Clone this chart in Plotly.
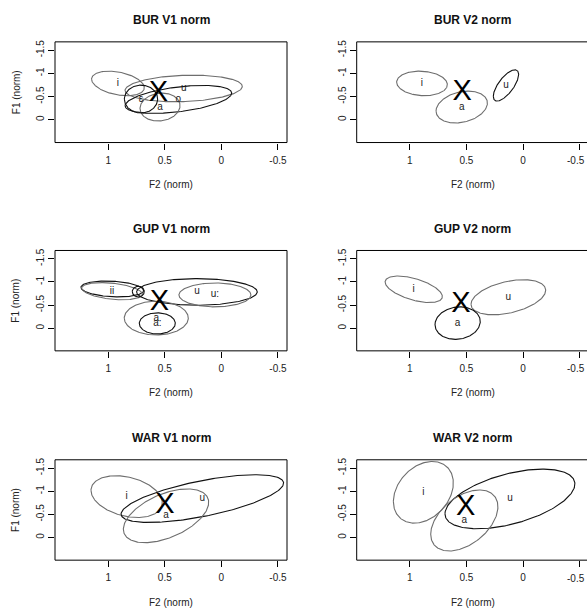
import numpy as np
import plotly.graph_objects as go
from plotly.subplots import make_subplots

# ---------------- data (normalised formant space) ----------------
panel_titles = ["BUR V1 norm", "BUR V2 norm", "GUP V1 norm",
                "GUP V2 norm", "WAR V1 norm", "WAR V2 norm"]

x_tick_vals = [1, 0.5, 0, -0.5]
x_tick_text = ["1", "0.5", "0", "-0.5"]
y_tick_vals = [-1.5, -1, -0.5, 0]
y_tick_text = ["-1.5", "-1", "-0.5", "0"]

# BUR V1
bur1_vowels = ["i", "u", "o", "a", "ɛ"]
bur1_f2 = [0.914, 0.333, 0.380, 0.542, 0.710]
bur1_f1 = [-0.784, -0.676, -0.440, -0.275, -0.447]
bur1_f2_rad = [0.233, 0.518, 0.471, 0.177, 0.147]
bur1_f1_rad = [0.265, 0.287, 0.301, 0.301, 0.301]
bur1_corr = [-0.35, 0.15, 0.45, 0.10, 0.0]
bur1_centroid = [0.557, -0.569]

# BUR V2
bur2_vowels = ["i", "a", "u"]
bur2_f2 = [0.893, 0.542, 0.151]
bur2_f1 = [-0.784, -0.275, -0.741]
bur2_f2_rad = [0.224, 0.227, 0.112]
bur2_f1_rad = [0.265, 0.344, 0.337]
bur2_corr = [-0.10, 0.25, 0.70]
bur2_centroid = [0.539, -0.590]

# GUP V1
gup1_vowels = ["", "ii", "", "u", "u:", "a", "a:"]
gup1_f2 = [0.964, 0.966, 0.734, 0.216, 0.057, 0.575, 0.566]
gup1_f1 = [-0.848, -0.800, -0.791, -0.784, -0.719, -0.218, -0.103]
gup1_f2_rad = [0.277, 0.268, 0.053, 0.533, 0.318, 0.283, 0.159]
gup1_f1_rad = [0.172, 0.186, 0.115, 0.287, 0.258, 0.366, 0.229]
gup1_corr = [-0.20, -0.35, 0.0, 0.0, 0.0, 0.0, 0.0]
gup1_centroid = [0.548, -0.547]

# GUP V2
gup2_vowels = ["i", "u", "a"]
gup2_f2 = [0.966, 0.130, 0.578]
gup2_f1 = [-0.841, -0.669, -0.110]
gup2_f2_rad = [0.253, 0.330, 0.200]
gup2_f1_rad = [0.287, 0.380, 0.351]
gup2_corr = [-0.55, 0.40, 0.10]
gup2_centroid = [0.548, -0.512]

# WAR V1
war1_vowels = ["i", "u", "a"]
war1_f2 = [0.837, 0.168, 0.489]
war1_f1 = [-0.884, -0.841, -0.469]
war1_f2_rad = [0.315, 0.718, 0.377]
war1_f1_rad = [0.452, 0.516, 0.581]
war1_corr = [-0.30, 0.65, 0.50]
war1_centroid = [0.498, -0.691]

# WAR V2
war2_vowels = ["i", "u", "a"]
war2_f2 = [0.881, 0.116, 0.519]
war2_f1 = [-0.977, -0.834, -0.368]
war2_f2_rad = [0.265, 0.574, 0.297]
war2_f1_rad = [0.667, 0.645, 0.660]
war2_corr = [0.30, 0.50, 0.45]
war2_centroid = [0.507, -0.641]

panels = [
    (bur1_vowels, bur1_f2, bur1_f1, bur1_f2_rad, bur1_f1_rad, bur1_corr, bur1_centroid),
    (bur2_vowels, bur2_f2, bur2_f1, bur2_f2_rad, bur2_f1_rad, bur2_corr, bur2_centroid),
    (gup1_vowels, gup1_f2, gup1_f1, gup1_f2_rad, gup1_f1_rad, gup1_corr, gup1_centroid),
    (gup2_vowels, gup2_f2, gup2_f1, gup2_f2_rad, gup2_f1_rad, gup2_corr, gup2_centroid),
    (war1_vowels, war1_f2, war1_f1, war1_f2_rad, war1_f1_rad, war1_corr, war1_centroid),
    (war2_vowels, war2_f2, war2_f1, war2_f2_rad, war2_f1_rad, war2_corr, war2_centroid),
]

# ---------------- styles / layout ----------------
GRAY = "#6e6e6e"
BLACK = "#111111"
line_colors = [
    [GRAY, GRAY, BLACK, GRAY, BLACK],
    [GRAY, GRAY, BLACK],
    [BLACK, GRAY, BLACK, BLACK, GRAY, GRAY, BLACK],
    [GRAY, GRAY, BLACK],
    [GRAY, BLACK, GRAY],
    [GRAY, BLACK, GRAY],
]
FONT = "Liberation Sans, Arial, sans-serif"

FW, FH = 587, 610


def px(xp):
    return xp / FW


def py(yp):
    return 1 - yp / FH


col_x = [(55.0, 287.0), (356.7, 588.7)]
row_y = [(40.0, 141.0), (249.3, 350.0), (459.3, 560.0)]
x_range = [1.47, -0.58]
y_range = [0.49, -1.68]

fig = make_subplots(rows=3, cols=2)

t = np.linspace(0, 2 * np.pi, 241)
for p, (vow, f2, f1, f2r, f1r, cr, cen) in enumerate(panels):
    row, col = p // 2 + 1, p % 2 + 1
    for k in range(len(vow)):
        phi = np.arccos(cr[k])
        ex = f2[k] + f2r[k] * np.cos(t)
        ey = f1[k] + f1r[k] * np.cos(t - phi)
        fig.add_trace(go.Scatter(x=ex, y=ey, mode="lines",
                                 line=dict(color=line_colors[p][k], width=1.1),
                                 hoverinfo="skip", showlegend=False), row=row, col=col)
    fig.add_trace(go.Scatter(x=f2, y=f1, mode="text", text=vow,
                             textfont=dict(family=FONT, size=10, color="#222222"),
                             textposition="middle center", hoverinfo="skip",
                             showlegend=False), row=row, col=col)
    fig.add_trace(go.Scatter(x=[cen[0]], y=[cen[1]], mode="text", text=["X"],
                             textfont=dict(family=FONT, size=29, color="#000000"),
                             textposition="middle center", hoverinfo="skip",
                             showlegend=False), row=row, col=col)

annotations = []
shapes = []
frame = dict(color="#000", width=1)
for p in range(6):
    r, c = p // 2, p % 2
    xa = "xaxis" if p == 0 else f"xaxis{p + 1}"
    ya = "yaxis" if p == 0 else f"yaxis{p + 1}"
    x0, x1 = col_x[c]
    y0, y1 = row_y[r]
    # right-hand panels run off the page edge: clip them there, same scale
    x1v = min(x1, FW)
    xr = [x_range[0], x_range[0] + (x_range[1] - x_range[0]) * (x1v - x0) / (x1 - x0)]
    fig.layout[xa].update(domain=[px(x0), px(x1v)], range=xr,
                          tickmode="array", tickvals=x_tick_vals, ticktext=x_tick_text,
                          ticks="outside", ticklen=6, tickcolor="#000", tickwidth=1,
                          showline=False, showgrid=False, zeroline=False,
                          ticklabelstandoff=2, fixedrange=True,
                          tickfont=dict(family=FONT, size=10, color="#222"))
    fig.layout[ya].update(domain=[py(y1), py(y0)], range=y_range,
                          tickmode="array", tickvals=y_tick_vals, ticktext=y_tick_text,
                          ticks="outside", ticklen=6, tickcolor="#000", tickwidth=1,
                          showline=False, showgrid=False, zeroline=False, tickangle=-90,
                          ticklabelstandoff=0, fixedrange=True,
                          tickfont=dict(family=FONT, size=10, color="#222"))
    # plot frame
    shapes.append(dict(type="line", xref="paper", yref="paper", x0=px(x0), x1=px(x1v),
                       y0=py(y0), y1=py(y0), line=frame))
    shapes.append(dict(type="line", xref="paper", yref="paper", x0=px(x0), x1=px(x1v),
                       y0=py(y1), y1=py(y1), line=frame))
    shapes.append(dict(type="line", xref="paper", yref="paper", x0=px(x0), x1=px(x0),
                       y0=py(y0), y1=py(y1), line=frame))
    if x1v == x1:
        shapes.append(dict(type="line", xref="paper", yref="paper", x0=px(x1), x1=px(x1),
                           y0=py(y0), y1=py(y1), line=frame))
    else:
        # the edge tick label that the axis hides at the page border
        annotations.append(dict(text=x_tick_text[-1], x=px(586), y=py(y1 + 18),
                                xref="paper", yref="paper", showarrow=False,
                                xanchor="right", yanchor="middle", borderpad=0,
                                font=dict(family=FONT, size=10, color="#222")))
    cxp = (x0 + x1) / 2
    annotations.append(dict(text="<b>" + panel_titles[p] + "</b>", x=px(cxp), y=py(y0 - 22),
                            xref="paper", yref="paper", showarrow=False,
                            xanchor="center", yanchor="middle",
                            font=dict(family=FONT, size=12, color="#111")))
    annotations.append(dict(text="F2 (norm)", x=px(cxp), y=py(y1 + 42),
                            xref="paper", yref="paper", showarrow=False,
                            xanchor="center", yanchor="middle",
                            font=dict(family=FONT, size=10, color="#222")))
    if c == 0:
        annotations.append(dict(text="F1 (norm)", x=px(x0 - 39), y=py((y0 + y1) / 2),
                                xref="paper", yref="paper", showarrow=False, textangle=-90,
                                xanchor="center", yanchor="middle",
                                font=dict(family=FONT, size=10, color="#222")))

fig.update_layout(width=FW, height=FH, margin=dict(l=0, r=0, t=0, b=0),
                  paper_bgcolor="white", plot_bgcolor="white",
                  annotations=annotations, shapes=shapes, showlegend=False,
                  hovermode=False)

fig.write_html("out.html", config={"displayModeBar": False, "staticPlot": True},
               post_script="document.body.style.margin='0';document.body.style.overflow='hidden';")
